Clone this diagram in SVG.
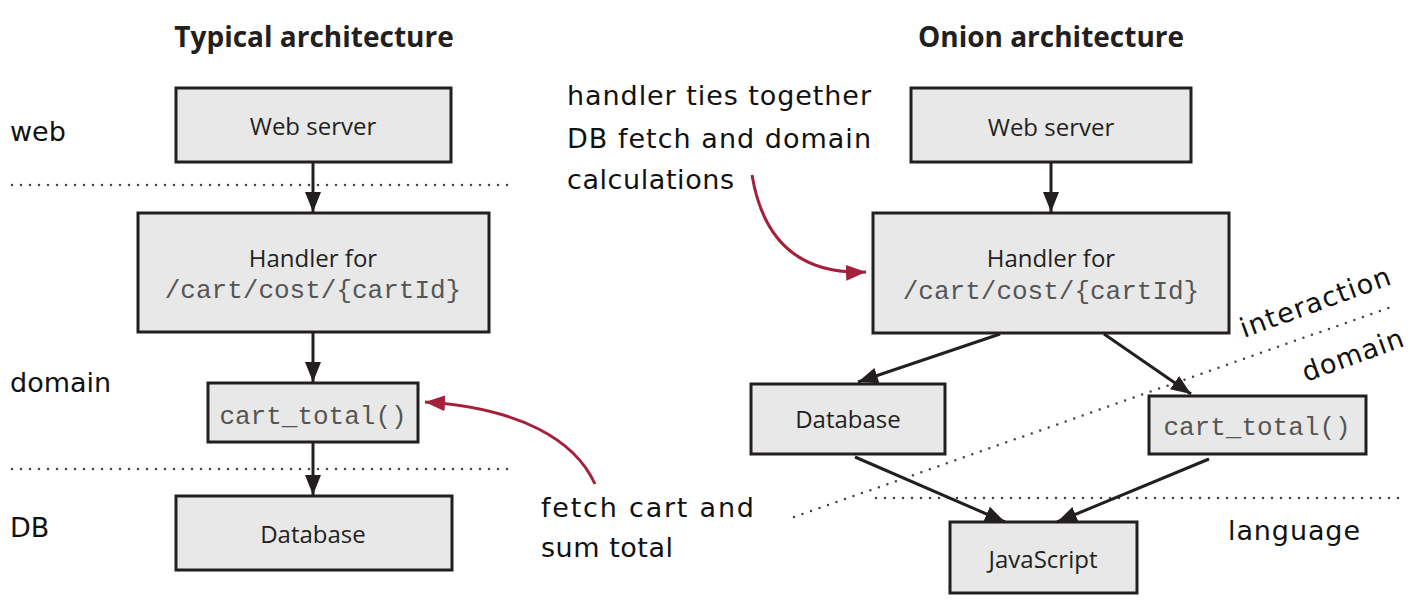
<svg xmlns="http://www.w3.org/2000/svg" width="1419" height="613" viewBox="0 0 1419 613">
<style>
.box{fill:#e8e8e8;stroke:#231f20;stroke-width:3}
.lbl{font-family:"Open Sans","Noto Sans",sans-serif;font-size:24px;fill:#231f20;text-anchor:middle}
.mono{font-family:"Liberation Mono","DejaVu Sans Mono",monospace;font-size:26px;fill:#555;text-anchor:middle}
.title{font-family:"Open Sans","Noto Sans",sans-serif;font-weight:bold;font-size:28px;fill:#231f20;text-anchor:middle}
.hand{font-family:"DejaVu Sans",sans-serif;font-size:27px;fill:#111}
.dot{stroke:#444;stroke-width:2.5;stroke-linecap:round;stroke-dasharray:0 9;fill:none}
.conn{stroke:#231f20;stroke-width:3;fill:none;marker-end:url(#ah)}
.red{stroke:#a3213a;stroke-width:3;fill:none;marker-end:url(#rh)}
</style>
<defs>
<marker id="ah" markerUnits="userSpaceOnUse" markerWidth="22" markerHeight="16" refX="20" refY="8" orient="auto"><path d="M0,0 L20,8 L0,16 z" fill="#231f20"/></marker>
<marker id="rh" markerUnits="userSpaceOnUse" markerWidth="22" markerHeight="16" refX="20" refY="8" orient="auto"><path d="M0,0 L20,8 L0,16 z" fill="#a3213a"/></marker>
</defs>
<rect width="1419" height="613" fill="#fff"/>

<text class="title" x="314" y="47">Typical architecture</text>
<text class="title" x="1051" y="47">Onion architecture</text>

<g id="layer-labels">
<text class="hand" x="10" y="141">web</text>
<text class="hand" x="10" y="392">domain</text>
<text class="hand" x="10" y="537">DB</text>
<text class="hand" x="1228" y="540" textLength="132">language</text>
<text class="hand" transform="translate(1244,338) rotate(-20)" textLength="158">interaction</text>
<text class="hand" transform="translate(1306,382) rotate(-20)" textLength="106">domain</text>
</g>

<g id="separators">
<line class="dot" x1="12" y1="185" x2="510" y2="185"/>
<line class="dot" x1="12" y1="469" x2="510" y2="469"/>
<line class="dot" x1="876" y1="498" x2="1400" y2="498"/>
<line class="dot" x1="794" y1="517" x2="1394" y2="306"/>
</g>

<g id="l-web"><rect class="box" x="176" y="88" width="275" height="74"/><text class="lbl" x="313" y="135">Web server</text></g>
<g id="l-handler"><rect class="box" x="138" y="213" width="351" height="119"/><text class="lbl" x="313" y="267">Handler for</text><text class="mono" x="313" y="298">/cart/cost/{cartId}</text></g>
<g id="l-cart"><rect class="box" x="208" y="383" width="210" height="59"/><text class="mono" x="313" y="424">cart_total()</text></g>
<g id="l-db"><rect class="box" x="176" y="496" width="276" height="74"/><text class="lbl" x="313" y="543">Database</text></g>

<g id="r-web"><rect class="box" x="911" y="88" width="280" height="74"/><text class="lbl" x="1051" y="136">Web server</text></g>
<g id="r-handler"><rect class="box" x="873" y="213" width="356" height="120"/><text class="lbl" x="1051" y="267">Handler for</text><text class="mono" x="1051" y="299">/cart/cost/{cartId}</text></g>
<g id="r-db"><rect class="box" x="751" y="384" width="194" height="70"/><text class="lbl" x="848" y="428">Database</text></g>
<g id="r-cart"><rect class="box" x="1149" y="396" width="217" height="58"/><text class="mono" x="1257" y="435">cart_total()</text></g>
<g id="r-js"><rect class="box" x="950" y="522" width="187" height="71"/><text class="lbl" x="1043" y="568">JavaScript</text></g>

<g id="annotations">
<text class="hand" x="567" y="105" textLength="304">handler ties together</text>
<text class="hand" x="567" y="148" textLength="304">DB fetch and domain</text>
<text class="hand" x="567" y="189" textLength="167">calculations</text>
<text class="hand" x="541" y="517" textLength="213">fetch cart and</text>
<text class="hand" x="541" y="557" textLength="132">sum total</text>
</g>

<g id="connectors">
<line class="conn" x1="313" y1="162" x2="313" y2="212"/>
<line class="conn" x1="313" y1="332" x2="313" y2="382"/>
<line class="conn" x1="313" y1="442" x2="313" y2="495"/>
<line class="conn" x1="1051" y1="162" x2="1051" y2="212"/>
<line class="conn" x1="1000" y1="334" x2="858" y2="382"/>
<line class="conn" x1="1104" y1="334" x2="1191" y2="394"/>
<line class="conn" x1="855" y1="457" x2="1005" y2="522"/>
<line class="conn" x1="1209" y1="459" x2="1057" y2="522"/>
<path class="red" d="M595,484 C575,440 520,408 425,402"/>
<path class="red" d="M752,175 C762,235 795,275 866,272"/>
</g>
</svg>
